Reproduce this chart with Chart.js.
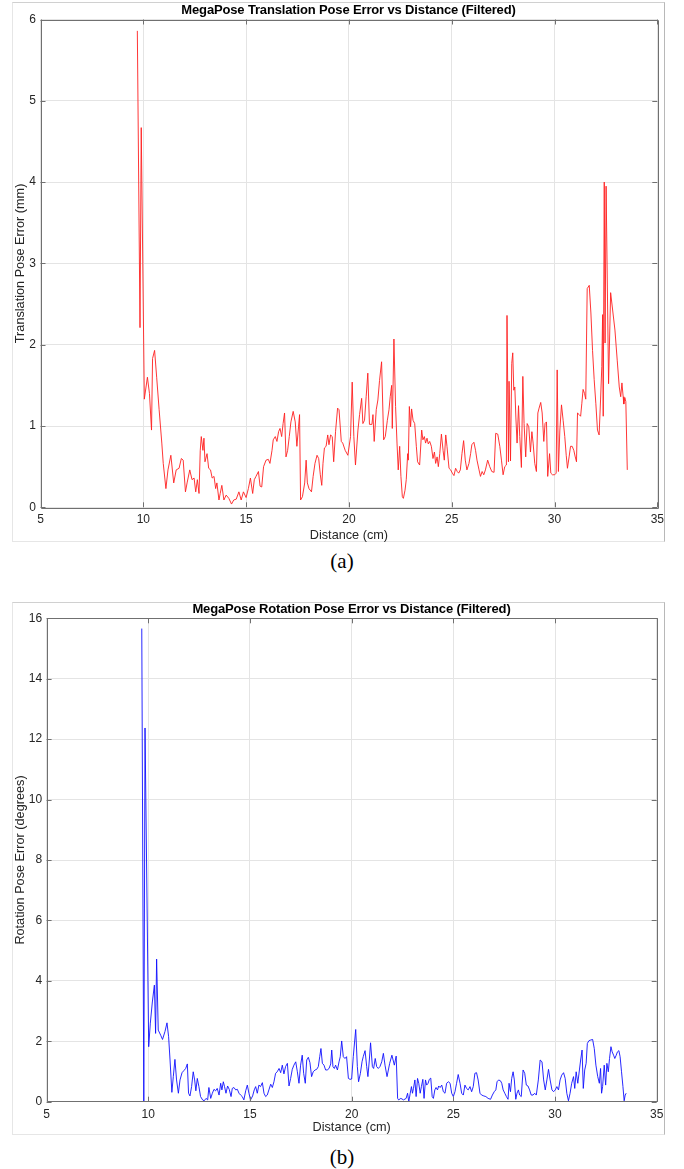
<!DOCTYPE html>
<html>
<head>
<meta charset="utf-8">
<script src="https://cdn.jsdelivr.net/npm/chart.js@4.4.1/dist/chart.umd.min.js"></script>
<style>
  html, body { margin: 0; padding: 0; background: #fff; }
  body { width: 684px; height: 1169px; position: relative; overflow: hidden; }
  .frame { position: absolute; left: 12px; width: 653px; border: 1px solid #e6e6e6; border-right-color: #b8b8b8; border-top-color: #d0d0d0; box-sizing: border-box; }
  canvas { position: absolute; left: 0; }
  .title { position: absolute; font: bold 13px/13px "Liberation Sans", Arial, sans-serif; color: #000; text-align: center; letter-spacing: -0.15px; white-space: nowrap; }
  .caption { position: absolute; left: 0; width: 684px; text-align: center; font: 21px/21px "Liberation Serif", "Times New Roman", serif; color: #000; }
</style>
</head>
<body>
<div class="frame" style="top:2px;height:540px"></div>
<div class="frame" style="top:602px;height:533px"></div>

<canvas id="chart-trans" width="684" height="542" style="top:0"></canvas>
<canvas id="chart-rot" width="684" height="540" style="top:600px"></canvas>

<div class="title" style="left:40px;width:617px;top:3px">MegaPose Translation Pose Error vs Distance (Filtered)</div>
<div class="title" style="left:46px;width:611px;top:602px">MegaPose Rotation Pose Error vs Distance (Filtered)</div>
<div class="caption" style="top:551px">(a)</div>
<div class="caption" style="top:1147px">(b)</div>

<script>
const xTicksCm = [5, 10, 15, 20, 25, 30, 35];

// (a) translation error, mm
const transDist = [
  9.71, 9.84, 9.90, 10.05, 10.20, 10.30, 10.40, 10.45, 10.55, 10.65, 10.77, 10.90, 10.97,
  11.10, 11.20, 11.34, 11.48, 11.60, 11.74, 11.85, 11.94, 12.05, 12.13, 12.26, 12.37, 12.47,
  12.55, 12.63, 12.71, 12.77, 12.82, 12.90, 12.95, 13.00, 13.10, 13.18, 13.27, 13.35, 13.44,
  13.52, 13.58, 13.68, 13.74, 13.82, 13.92, 14.03, 14.16, 14.29, 14.40, 14.52, 14.65, 14.76,
  14.87, 15.00, 15.11, 15.21, 15.32, 15.40, 15.48, 15.60, 15.68, 15.76, 15.85, 15.97, 16.08,
  16.16, 16.26, 16.32, 16.42, 16.50, 16.58, 16.65, 16.73, 16.80, 16.87, 16.94, 17.02, 17.10,
  17.18, 17.29, 17.39, 17.47, 17.55, 17.60, 17.65, 17.74, 17.85, 17.92, 17.98, 18.06, 18.18,
  18.26, 18.35, 18.45, 18.53, 18.61, 18.68, 18.74, 18.81, 18.89, 18.97, 19.03, 19.11, 19.19,
  19.26, 19.35, 19.45, 19.52, 19.63, 19.70, 19.82, 19.95, 20.08, 20.16, 20.24, 20.32, 20.44,
  20.52, 20.62, 20.68, 20.76, 20.84, 20.92, 21.00, 21.12, 21.17, 21.23, 21.33, 21.41, 21.49,
  21.59, 21.69, 21.77, 21.87, 21.95, 22.01, 22.08, 22.11, 22.19, 22.27, 22.34, 22.40, 22.47,
  22.53, 22.60, 22.65, 22.73, 22.79, 22.86, 22.89, 22.94, 23.00, 23.05, 23.12, 23.20, 23.28,
  23.34, 23.44, 23.54, 23.60, 23.67, 23.73, 23.80, 23.86, 23.93, 24.01, 24.09, 24.16, 24.22,
  24.29, 24.35, 24.42, 24.50, 24.58, 24.64, 24.71, 24.77, 24.87, 24.95, 25.03, 25.11, 25.19,
  25.27, 25.34, 25.42, 25.50, 25.58, 25.66, 25.74, 25.84, 25.92, 25.98, 26.08, 26.16, 26.23,
  26.33, 26.40, 26.48, 26.56, 26.64, 26.75, 26.85, 26.95, 27.06, 27.14, 27.24, 27.34, 27.42,
  27.50, 27.58, 27.66, 27.69, 27.76, 27.79, 27.86, 27.92, 27.97, 28.02, 28.07, 28.12, 28.18,
  28.25, 28.31, 28.39, 28.46, 28.52, 28.60, 28.67, 28.75, 28.83, 28.90, 28.96, 29.04, 29.12,
  29.19, 29.25, 29.33, 29.40, 29.48, 29.54, 29.61, 29.67, 29.76, 29.82, 29.90, 30.01, 30.08,
  30.13, 30.19, 30.26, 30.34, 30.42, 30.50, 30.57, 30.63, 30.71, 30.78, 30.86, 30.94, 31.00,
  31.07, 31.12, 31.20, 31.27, 31.33, 31.39, 31.46, 31.52, 31.59, 31.69, 31.77, 31.85, 31.93,
  32.01, 32.09, 32.17, 32.24, 32.30, 32.34, 32.37, 32.42, 32.46, 32.51, 32.63, 32.73, 32.94,
  33.05, 33.15, 33.22, 33.28, 33.34, 33.37, 33.42, 33.47, 33.54,
];
const transErr = [
  5.86, 2.21, 4.67, 1.33, 1.60, 1.40, 0.95, 1.83, 1.93, 1.60, 1.20, 0.79, 0.54,
  0.23, 0.46, 0.64, 0.30, 0.46, 0.48, 0.60, 0.58, 0.19, 0.30, 0.46, 0.34, 0.36,
  0.19, 0.34, 0.17, 0.70, 0.87, 0.70, 0.85, 0.56, 0.66, 0.48, 0.46, 0.36, 0.38,
  0.23, 0.30, 0.09, 0.17, 0.27, 0.09, 0.15, 0.11, 0.04, 0.09, 0.10, 0.19, 0.09,
  0.19, 0.12, 0.23, 0.36, 0.17, 0.34, 0.38, 0.44, 0.26, 0.25, 0.50, 0.58, 0.59,
  0.54, 0.70, 0.83, 0.87, 0.81, 0.93, 0.97, 0.87, 1.03, 1.16, 0.62, 0.70, 0.87,
  1.05, 1.18, 1.05, 0.75, 0.99, 1.14, 0.09, 0.13, 0.30, 0.58, 0.30, 0.23, 0.19,
  0.38, 0.54, 0.64, 0.60, 0.40, 0.27, 0.54, 0.73, 0.75, 0.89, 0.77, 0.89, 0.87,
  0.56, 0.93, 1.22, 1.20, 0.81, 0.79, 0.70, 0.64, 0.87, 1.54, 0.87, 0.52, 0.95,
  1.14, 1.34, 1.03, 1.07, 1.36, 1.65, 1.02, 1.02, 1.14, 0.81, 1.20, 1.32, 1.56,
  1.79, 0.83, 0.87, 1.07, 1.20, 1.36, 1.50, 0.97, 2.07, 1.24, 0.79, 0.46, 0.75,
  0.38, 0.13, 0.11, 0.21, 0.34, 0.66, 0.58, 1.24, 0.99, 1.21, 1.07, 1.03, 0.75,
  0.56, 0.52, 0.95, 0.83, 0.87, 0.79, 0.85, 0.78, 0.81, 0.75, 0.60, 0.68, 0.54,
  0.62, 0.50, 0.66, 0.90, 0.70, 0.58, 0.89, 0.75, 0.48, 0.46, 0.42, 0.39, 0.48,
  0.44, 0.42, 0.46, 0.66, 0.82, 0.58, 0.46, 0.54, 0.66, 0.77, 0.80, 0.70, 0.58,
  0.46, 0.38, 0.44, 0.40, 0.46, 0.58, 0.50, 0.44, 0.43, 0.91, 0.90, 0.75, 0.58,
  0.40, 0.50, 0.52, 2.36, 0.56, 1.55, 0.57, 1.77, 1.90, 1.44, 1.48, 1.11, 0.79,
  1.25, 0.87, 0.49, 1.61, 1.03, 0.62, 1.03, 0.99, 0.68, 0.93, 0.79, 0.54, 0.44,
  1.16, 1.22, 1.29, 1.16, 0.81, 1.03, 1.05, 0.38, 0.66, 0.42, 0.40, 0.40, 0.42,
  1.69, 0.44, 0.95, 1.26, 1.07, 0.87, 0.64, 0.48, 0.62, 0.75, 0.75, 0.70, 0.63,
  0.56, 1.16, 1.14, 1.12, 1.28, 1.45, 1.40, 1.33, 2.69, 2.73, 2.39, 1.93, 1.57,
  1.28, 0.95, 0.89, 1.32, 1.73, 2.37, 1.12, 4.00, 2.02, 3.95, 1.52, 2.64, 2.18,
  1.81, 1.48, 1.36, 1.53, 1.36, 1.27, 1.35, 1.30, 0.46,
];

// (b) rotation error, degrees
const rotDist = [
  9.68, 9.78, 9.84, 10.02, 10.10, 10.20, 10.30, 10.36, 10.41, 10.49, 10.61, 10.70, 10.82,
  10.92, 11.00, 11.07, 11.16, 11.23, 11.31, 11.39, 11.48, 11.56, 11.66, 11.75, 11.84, 11.92,
  11.98, 12.05, 12.13, 12.21, 12.28, 12.34, 12.41, 12.49, 12.57, 12.67, 12.75, 12.84, 12.92,
  12.98, 13.07, 13.15, 13.23, 13.31, 13.39, 13.48, 13.56, 13.62, 13.69, 13.75, 13.82, 13.90,
  13.98, 14.07, 14.13, 14.21, 14.30, 14.38, 14.46, 14.54, 14.62, 14.70, 14.79, 14.87, 14.95,
  15.03, 15.13, 15.21, 15.28, 15.36, 15.44, 15.52, 15.61, 15.69, 15.77, 15.85, 15.93, 16.02,
  16.10, 16.18, 16.26, 16.34, 16.43, 16.51, 16.59, 16.67, 16.75, 16.84, 16.92, 17.00, 17.08,
  17.16, 17.25, 17.33, 17.41, 17.49, 17.57, 17.64, 17.72, 17.79, 17.87, 17.95, 18.03, 18.11,
  18.20, 18.28, 18.36, 18.43, 18.49, 18.56, 18.64, 18.72, 18.80, 18.89, 18.97, 19.02, 19.08,
  19.15, 19.21, 19.30, 19.38, 19.44, 19.51, 19.59, 19.67, 19.75, 19.84, 19.92, 20.00, 20.08,
  20.20, 20.28, 20.34, 20.43, 20.51, 20.57, 20.66, 20.74, 20.80, 20.87, 20.93, 21.02, 21.08,
  21.16, 21.23, 21.31, 21.39, 21.48, 21.56, 21.64, 21.74, 21.87, 21.98, 22.10, 22.19, 22.26,
  22.31, 22.42, 22.55, 22.68, 22.75, 22.81, 22.88, 22.94, 22.99, 23.04, 23.11, 23.17, 23.24,
  23.30, 23.37, 23.43, 23.50, 23.56, 23.63, 23.69, 23.76, 23.82, 23.89, 23.96, 24.02, 24.09,
  24.15, 24.22, 24.28, 24.35, 24.43, 24.51, 24.59, 24.67, 24.76, 24.84, 24.92, 25.00, 25.08,
  25.16, 25.24, 25.33, 25.41, 25.49, 25.57, 25.65, 25.73, 25.82, 25.90, 25.98, 26.06, 26.14,
  26.22, 26.31, 26.39, 26.50, 26.60, 26.71, 26.83, 26.92, 27.01, 27.09, 27.15, 27.23, 27.32,
  27.38, 27.45, 27.53, 27.61, 27.69, 27.74, 27.81, 27.87, 27.94, 28.00, 28.07, 28.13, 28.20,
  28.26, 28.34, 28.43, 28.51, 28.59, 28.67, 28.75, 28.83, 28.92, 29.00, 29.08, 29.18, 29.27,
  29.36, 29.44, 29.52, 29.60, 29.68, 29.76, 29.85, 29.93, 30.01, 30.09, 30.17, 30.25, 30.33,
  30.42, 30.50, 30.58, 30.66, 30.74, 30.82, 30.91, 30.97, 31.04, 31.12, 31.20, 31.26, 31.33,
  31.39, 31.46, 31.53, 31.59, 31.67, 31.75, 31.85, 31.93, 32.01, 32.10, 32.18, 32.24, 32.29,
  32.34, 32.42, 32.49, 32.55, 32.62, 32.68, 32.75, 32.81, 32.88, 32.94, 33.01, 33.07, 33.14,
  33.20, 33.27, 33.34, 33.40, 33.45, 33.50,
];
const rotErr = [
  15.66, 0.00, 12.37, 1.82, 2.60, 3.30, 3.86, 2.26, 4.72, 2.37, 2.20, 2.06, 2.32,
  2.61, 2.15, 1.38, 0.31, 0.83, 1.40, 0.72, 0.28, 0.72, 0.96, 1.03, 1.10, 1.25,
  0.28, 0.19, 0.50, 0.99, 0.72, 0.36, 0.77, 0.50, 0.17, 0.06, 0.03, 0.11, 0.06,
  0.47, 0.11, 0.28, 0.41, 0.36, 0.44, 0.22, 0.61, 0.39, 0.66, 0.50, 0.28, 0.52,
  0.41, 0.17, 0.44, 0.47, 0.39, 0.41, 0.28, 0.22, 0.17, 0.06, 0.36, 0.55, 0.28,
  0.06, 0.19, 0.39, 0.50, 0.28, 0.55, 0.50, 0.63, 0.28, 0.17, 0.22, 0.39, 0.58,
  0.47, 0.66, 0.94, 0.99, 1.10, 0.96, 1.21, 0.92, 1.16, 1.27, 0.52, 0.77, 1.07,
  1.21, 1.32, 0.99, 0.61, 1.21, 1.54, 0.94, 0.61, 1.38, 1.47, 1.29, 0.83, 0.99,
  1.05, 1.07, 1.16, 1.49, 1.76, 1.27, 1.21, 1.05, 1.05, 1.10, 1.25, 1.71, 1.16,
  1.10, 1.21, 1.05, 1.32, 1.49, 2.01, 1.49, 1.43, 1.49, 0.77, 0.74, 0.75, 1.49,
  2.39, 1.16, 0.66, 0.94, 1.32, 1.49, 1.69, 1.16, 0.83, 1.38, 1.95, 1.16, 1.10,
  1.43, 1.16, 1.10, 1.16, 1.32, 1.60, 1.21, 0.83, 1.27, 1.54, 1.21, 1.51, 0.11,
  0.06, 0.11, 0.06, 0.11, 0.28, 0.00, 0.28, 0.50, 0.28, 0.44, 0.72, 0.17, 0.77,
  0.61, 0.28, 0.50, 0.74, 0.11, 0.72, 0.55, 0.61, 0.74, 0.78, 0.17, 0.11, 0.39,
  0.47, 0.39, 0.52, 0.47, 0.55, 0.33, 0.28, 0.61, 0.66, 0.61, 0.28, 0.17, 0.33,
  0.61, 0.90, 0.61, 0.28, 0.22, 0.55, 0.44, 0.39, 0.50, 0.33, 0.50, 0.94, 0.96,
  0.72, 0.28, 0.22, 0.19, 0.17, 0.11, 0.08, 0.22, 0.33, 0.39, 0.66, 0.72, 0.69,
  0.61, 0.39, 0.28, 0.17, 0.08, 0.61, 0.33, 0.77, 0.99, 0.72, 0.08, 0.28, 0.39,
  0.22, 0.17, 1.05, 0.94, 0.55, 0.52, 0.39, 0.22, 0.22, 0.28, 0.22, 0.72, 1.38,
  1.32, 0.72, 0.39, 0.72, 1.07, 0.72, 0.39, 0.33, 0.39, 0.50, 0.39, 0.72, 0.88,
  0.96, 0.77, 0.28, 0.03, 0.28, 0.61, 0.83, 0.44, 0.99, 0.61, 1.05, 1.38, 1.71,
  0.44, 1.05, 1.27, 1.93, 2.02, 2.04, 2.06, 1.76, 1.21, 0.83, 0.61, 1.10, 0.28,
  0.50, 1.21, 0.55, 1.27, 0.99, 1.43, 1.82, 1.65, 1.54, 1.43, 1.54, 1.65, 1.69,
  1.49, 0.99, 0.50, 0.03, 0.22, 0.28,
];

const AXIS_COLOR = "#707070";
const TEXT_COLOR = "#262626";
const GRID_COLOR = "#e4e4e4";

Chart.defaults.font.family = '"Liberation Sans", Arial, sans-serif';
Chart.defaults.color = TEXT_COLOR;

// MATLAB-style box with inward ticks on all four sides
const matlabBox = {
  id: "matlabBox",
  afterDraw(chart) {
    const { ctx, chartArea: a, scales: { x, y } } = chart;
    ctx.save();
    ctx.strokeStyle = AXIS_COLOR;
    ctx.lineWidth = 1;
    ctx.beginPath();
    x.ticks.forEach((t) => {
      const px = Math.round(x.getPixelForValue(t.value)) + 0.5;
      ctx.moveTo(px, a.bottom); ctx.lineTo(px, a.bottom - 5);
      ctx.moveTo(px, a.top); ctx.lineTo(px, a.top + 5);
    });
    y.ticks.forEach((t) => {
      const py = Math.round(y.getPixelForValue(t.value)) + 0.5;
      ctx.moveTo(a.left, py); ctx.lineTo(a.left + 5, py);
      ctx.moveTo(a.right, py); ctx.lineTo(a.right - 5, py);
    });
    ctx.rect(Math.round(a.left) + 0.5, Math.round(a.top) + 0.5,
      Math.round(a.right - a.left), Math.round(a.bottom - a.top));
    ctx.stroke();
    ctx.restore();
  },
};

function makeErrorChart(canvasId, xs, ys, color, yMax, yStep, yTitle, box) {
  const el = document.getElementById(canvasId);
  const points = xs.map((x, i) => ({ x, y: ys[i] }));
  return new Chart(el, {
    type: "line",
    data: {
      datasets: [{
        data: points,
        borderColor: color,
        borderWidth: 0.9,
        pointRadius: 0,
        tension: 0,
        fill: false,
      }],
    },
    plugins: [matlabBox],
    options: {
      responsive: false,
      animation: false,
      devicePixelRatio: 1,
      layout: { padding: { left: 0, top: box.top, right: box.right, bottom: 0 } },
      plugins: { legend: { display: false }, tooltip: { enabled: false }, title: { display: false } },
      scales: {
        x: {
          type: "linear",
          min: 5,
          max: 35,
          afterBuildTicks: (s) => { s.ticks = xTicksCm.map((v) => ({ value: v })); },
          ticks: { padding: box.xPad, font: { size: 12, lineHeight: 1.2 }, color: TEXT_COLOR, maxRotation: 0 },
          grid: { color: GRID_COLOR, drawTicks: false },
          border: { display: false },
          title: { display: true, text: "Distance (cm)", color: TEXT_COLOR, font: { size: 12.7, lineHeight: 1 }, padding: { top: 0, bottom: box.xTitlePad } },
          afterFit: (s) => { s.height = box.xHeight; },
        },
        y: {
          min: 0,
          max: yMax,
          ticks: { stepSize: yStep, padding: 4.5, font: { size: 12, lineHeight: 1.2 }, color: TEXT_COLOR },
          grid: { color: GRID_COLOR, drawTicks: false },
          border: { display: false },
          title: { display: true, text: yTitle, color: TEXT_COLOR, font: { size: 12.7, lineHeight: 1 }, padding: { top: 13.8, bottom: 0 } },
          afterFit: (s) => { s.width = box.yWidth; },
        },
      },
    },
  });
}

makeErrorChart("chart-trans", transDist, transErr, "#ff1f1f", 6, 1,
  "Translation Pose Error (mm)",
  { top: 19.5, right: 26.7, yWidth: 40.5, xHeight: 34.7, xPad: 5.5, xTitlePad: 0.5 });

makeErrorChart("chart-rot", rotDist, rotErr, "#1010ff", 16, 2,
  "Rotation Pose Error (degrees)",
  { top: 18.3, right: 27.3, yWidth: 46.6, xHeight: 38.3, xPad: 6, xTitlePad: 5.9 });
</script>
</body>
</html>
